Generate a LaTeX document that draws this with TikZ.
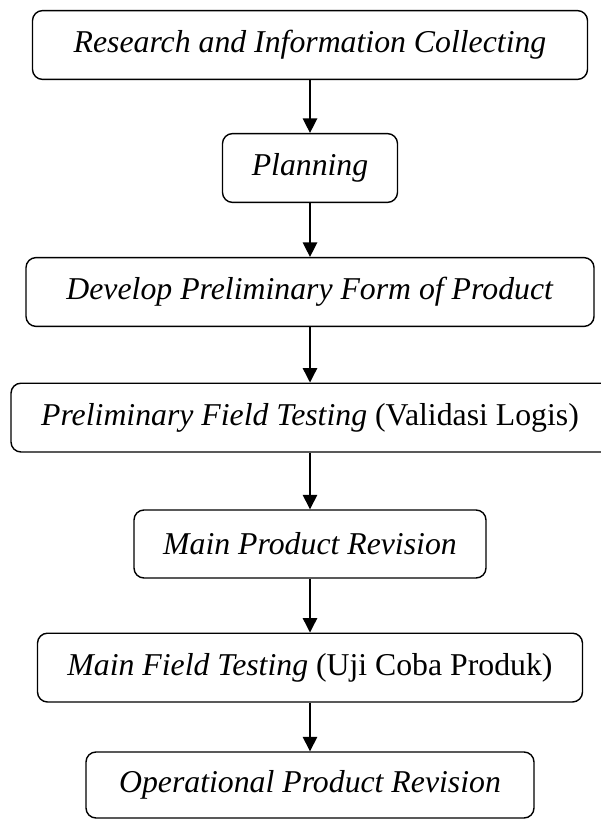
\documentclass[tikz,border=0pt]{standalone}
\usepackage{fontspec}
\setmainfont{Liberation Serif}
\usetikzlibrary{arrows.meta,positioning}

\begin{document}
\begin{tikzpicture}[
    stage/.style={draw,line width=1pt,rounded corners=.25cm,inner sep=0mm,
                  minimum height=1.72cm,
                  font=\fontsize{22.6}{27}\selectfont},
    flow/.style={line width=1pt,-{Triangle[length=.36cm,width=.36cm]}}]

\useasboundingbox (0,0) rectangle (15,-20.5);

% Steps of the model
\node[stage,minimum width=13.875cm] (research) at (7.75,-1.125) {\textit{Research and Information Collecting}};
\node[stage,minimum width=4.375cm] (planning) at (7.75,-4.2) {\textit{Planning}};
\node[stage,minimum width=14.2cm] (develop) at (7.75,-7.3) {\textit{Develop Preliminary Form of Product}};
\node[stage,minimum width=15.4cm] (prelim) at (7.975,-10.44) {\textit{Preliminary Field Testing} (Validasi Logis)\hspace*{.45cm}};
\node[stage,minimum width=8.8cm,minimum height=1.7cm] (mainrev) at (7.75,-13.6) {\textit{Main Product Revision}};
\node[stage,minimum width=13.625cm] (mainfield) at (7.75,-16.69) {\textit{Main Field Testing} (Uji Coba Produk)};
\node[stage,minimum width=11.2cm,minimum height=1.65cm] (oprev) at (7.75,-19.625) {\textit{Operational Product Revision}};

% Arrows between steps
\draw[flow] (research) -- (planning);
\draw[flow] (planning) -- (develop);
\draw[flow] (develop.south) -- (develop.south |- prelim.north);
\draw[flow] (mainrev.north |- prelim.south) -- (mainrev.north);
\draw[flow] (mainrev) -- (mainfield);
\draw[flow] (mainfield) -- (oprev);

\end{tikzpicture}
\end{document}
